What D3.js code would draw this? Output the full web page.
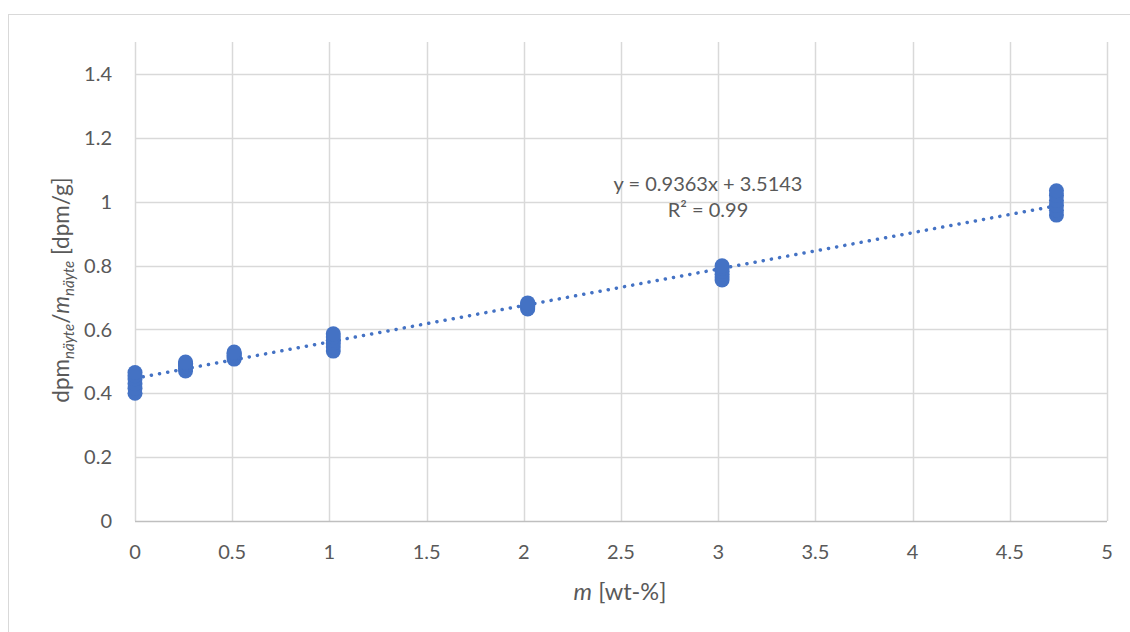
<!DOCTYPE html>
<html>
<head>
<meta charset="utf-8">
<script src="https://cdn.jsdelivr.net/npm/d3@7"></script>
<style>
  html, body { margin: 0; padding: 0; background: #fff; }
  svg { display: block; }
  text { font-family: Lato, "Open Sans", sans-serif; fill: #595959; }
</style>
</head>
<body>
<svg id="chart" width="1130" height="632"></svg>
<script>
// Measured samples: concentration m [wt-%] and replicate activity readings [dpm/g]
const concentrations = [0, 0.26, 0.51, 1.02, 2.02, 3.02, 4.74];
const replicates = [
  [0.400, 0.415, 0.430, 0.445, 0.455, 0.465],
  [0.470, 0.478, 0.485, 0.490, 0.494, 0.498],
  [0.507, 0.512, 0.517, 0.521, 0.525, 0.529],
  [0.532, 0.545, 0.556, 0.566, 0.576, 0.586],
  [0.664, 0.668, 0.672, 0.676, 0.680, 0.683],
  [0.755, 0.764, 0.773, 0.782, 0.791, 0.799],
  [0.958, 0.973, 0.988, 1.004, 1.019, 1.034]
];
const xTicks = [0, 0.5, 1, 1.5, 2, 2.5, 3, 3.5, 4, 4.5, 5];
const yTicks = [0, 0.2, 0.4, 0.6, 0.8, 1, 1.2, 1.4];
const equationLines = ["y = 0.9363x + 3.5143", "R² = 0.99"];

const points = [];
concentrations.forEach((c, i) => replicates[i].forEach(v => points.push({ x: c, y: v })));

const svg = d3.select("#chart");
const plotLeft = 135, plotRight = 1107, plotTop = 42, plotBottom = 521;
const x = d3.scaleLinear().domain([0, 5]).range([plotLeft, plotRight]);
const y = d3.scaleLinear().domain([0, 1.5]).range([plotBottom, plotTop]);
const blue = "#4472C4";

// Chart frame
svg.append("rect")
  .attr("x", 8.5).attr("y", 14.5)
  .attr("width", 1200).attr("height", 700)
  .attr("fill", "none").attr("stroke", "#d9d9d9").attr("stroke-width", 1);

// Gridlines
svg.append("g").selectAll("line").data(xTicks).join("line")
  .attr("x1", d => Math.round(x(d)) + 0.5).attr("x2", d => Math.round(x(d)) + 0.5)
  .attr("y1", plotTop).attr("y2", plotBottom)
  .attr("stroke", "#d9d9d9").attr("stroke-width", 1.5);
svg.append("g").selectAll("line").data(yTicks.filter(d => d > 0)).join("line")
  .attr("x1", plotLeft).attr("x2", plotRight)
  .attr("y1", d => Math.round(y(d)) + 0.5).attr("y2", d => Math.round(y(d)) + 0.5)
  .attr("stroke", "#d9d9d9").attr("stroke-width", 1.5);

// Horizontal axis line
svg.append("line")
  .attr("x1", plotLeft).attr("x2", plotRight)
  .attr("y1", Math.round(y(0)) + 0.5).attr("y2", Math.round(y(0)) + 0.5)
  .attr("stroke", "#bfbfbf").attr("stroke-width", 1.5);

// Tick labels
svg.append("g").selectAll("text").data(yTicks).join("text")
  .attr("x", 112).attr("y", d => y(d))
  .attr("dy", "0.36em").attr("text-anchor", "end")
  .attr("font-size", 20)
  .text(d => String(+d.toFixed(1)));
svg.append("g").selectAll("text").data(xTicks).join("text")
  .attr("x", d => x(d)).attr("y", plotBottom + 31)
  .attr("dy", "0.36em").attr("text-anchor", "middle")
  .attr("font-size", 20)
  .text(d => String(d));

// Least-squares trendline through all readings
const mx = d3.mean(points, d => d.x), my = d3.mean(points, d => d.y);
const slope = d3.sum(points, d => (d.x - mx) * (d.y - my)) / d3.sum(points, d => (d.x - mx) ** 2);
const intercept = my - slope * mx;
const xMax = d3.max(concentrations);
svg.append("line")
  .attr("x1", x(0)).attr("y1", y(intercept))
  .attr("x2", x(xMax)).attr("y2", y(intercept + slope * xMax))
  .attr("stroke", blue).attr("stroke-width", 3.5)
  .attr("stroke-linecap", "round").attr("stroke-dasharray", "0.1 8.2");

// Data markers
svg.append("g").selectAll("circle").data(points).join("circle")
  .attr("cx", d => x(d.x)).attr("cy", d => y(d.y))
  .attr("r", 7.5).attr("fill", blue);

// Regression equation label
svg.append("g").selectAll("text").data(equationLines).join("text")
  .attr("x", 708).attr("y", (d, i) => 191 + i * 26)
  .attr("text-anchor", "middle").attr("font-size", 20)
  .text(d => d);

// Axis titles
const yTitle = svg.append("text")
  .attr("transform", "translate(69,290) rotate(-90)")
  .attr("text-anchor", "middle").attr("font-size", 22.5);
yTitle.append("tspan").text("dpm");
yTitle.append("tspan").attr("font-size", 15).attr("font-style", "italic").attr("dy", 5).text("näyte");
yTitle.append("tspan").attr("dy", -5).text("/");
yTitle.append("tspan").attr("font-style", "italic").text("m");
yTitle.append("tspan").attr("font-size", 15).attr("font-style", "italic").attr("dy", 5).text("näyte");
yTitle.append("tspan").attr("dy", -5).text(" [dpm/g]");

const xTitle = svg.append("text")
  .attr("x", 620).attr("y", 600)
  .attr("text-anchor", "middle").attr("font-size", 23.5);
xTitle.append("tspan").attr("font-style", "italic").text("m");
xTitle.append("tspan").text(" [wt-%]");
</script>
</body>
</html>
